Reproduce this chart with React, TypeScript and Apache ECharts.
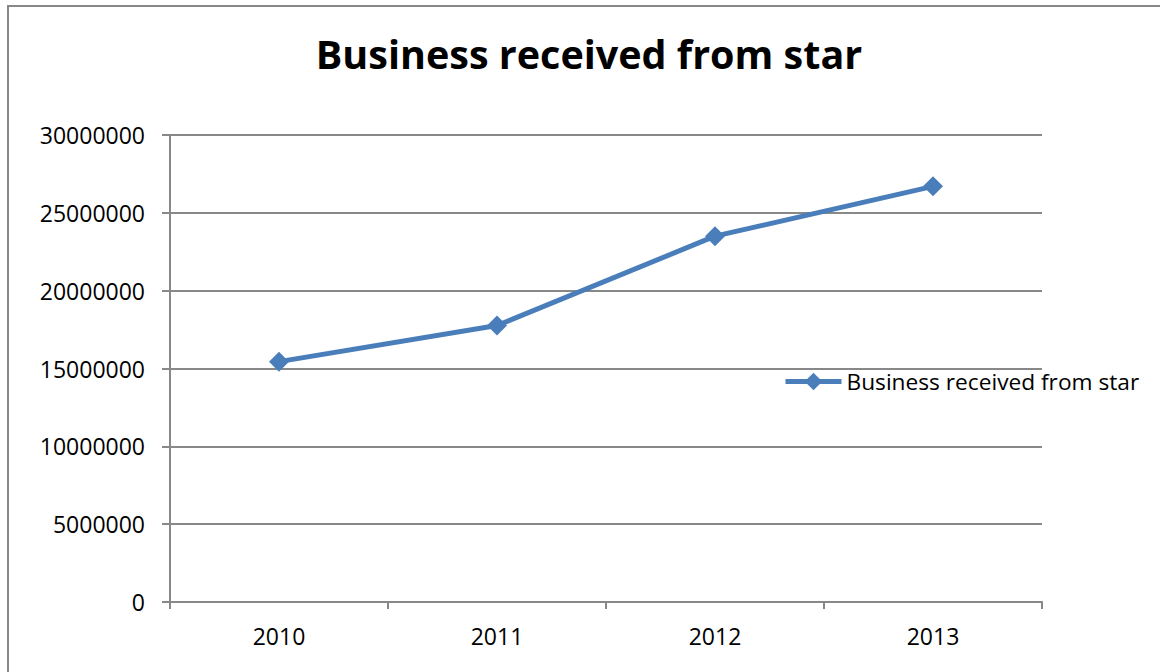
import React, { useEffect, useRef } from "react";
import * as echarts from "echarts";

const categories = ["2010", "2011", "2012", "2013"];
const businessValues = [15440000, 17760000, 23500000, 26700000];
const seriesName = "Business received from star";
const chartTitle = "Business received from star";

export default function App() {
  const ref = useRef<HTMLDivElement>(null);
  useEffect(() => {
    if (!ref.current) return;
    const chart = echarts.init(ref.current, null, { renderer: "svg" });
    const gray = "#888888";
    const font = "'Open Sans', 'Liberation Sans', sans-serif";
    chart.setOption({
      animation: false,
      backgroundColor: "#ffffff",
      title: {
        text: chartTitle,
        left: 584,
        top: 29,
        textAlign: "center",
        textStyle: { fontFamily: font, fontWeight: "bold", fontSize: 39.5, color: "#000" },
      },
      graphic: [
        {
          type: "rect",
          shape: { x: 8, y: 6, width: 1300, height: 800 },
          style: { fill: "none", stroke: gray, lineWidth: 2 },
          silent: true,
        },
      ],
      legend: {
        left: 783,
        top: 370,
        padding: 0,
        orient: "vertical",
        itemWidth: 56,
        itemHeight: 22,
        itemGap: 4,
        lineStyle: { width: 5 },
        textStyle: { fontFamily: font, fontSize: 22.7, color: "#000" },
        data: [seriesName],
      },
      grid: { left: 170, right: 118, top: 135, bottom: 70 },
      xAxis: {
        type: "category",
        data: categories,
        boundaryGap: true,
        axisLine: { lineStyle: { color: gray, width: 2 } },
        axisTick: { show: true, length: 7, lineStyle: { color: gray, width: 2 } },
        axisLabel: { fontFamily: font, fontSize: 23, color: "#000", margin: 22 },
      },
      yAxis: {
        type: "value",
        min: 0,
        max: 30000000,
        interval: 5000000,
        axisLine: { show: true, lineStyle: { color: gray, width: 2 } },
        axisTick: { show: true, length: 8, lineStyle: { color: gray, width: 2 } },
        splitLine: { show: true, lineStyle: { color: gray, width: 2 } },
        axisLabel: {
          fontFamily: font,
          fontSize: 23,
          color: "#000",
          margin: 25,
          formatter: (v: number) => String(v),
        },
      },
      series: [
        {
          name: seriesName,
          type: "line",
          data: businessValues,
          symbol: "diamond",
          symbolSize: 20,
          lineStyle: { color: "#4a7ebb", width: 5 },
          itemStyle: { color: "#4a7ebb" },
        },
      ],
    });
    return () => chart.dispose();
  }, []);
  return (
    <div
      ref={ref}
      style={{ position: "fixed", left: 0, top: 0, width: 1160, height: 672, background: "#fff" }}
    />
  );
}
